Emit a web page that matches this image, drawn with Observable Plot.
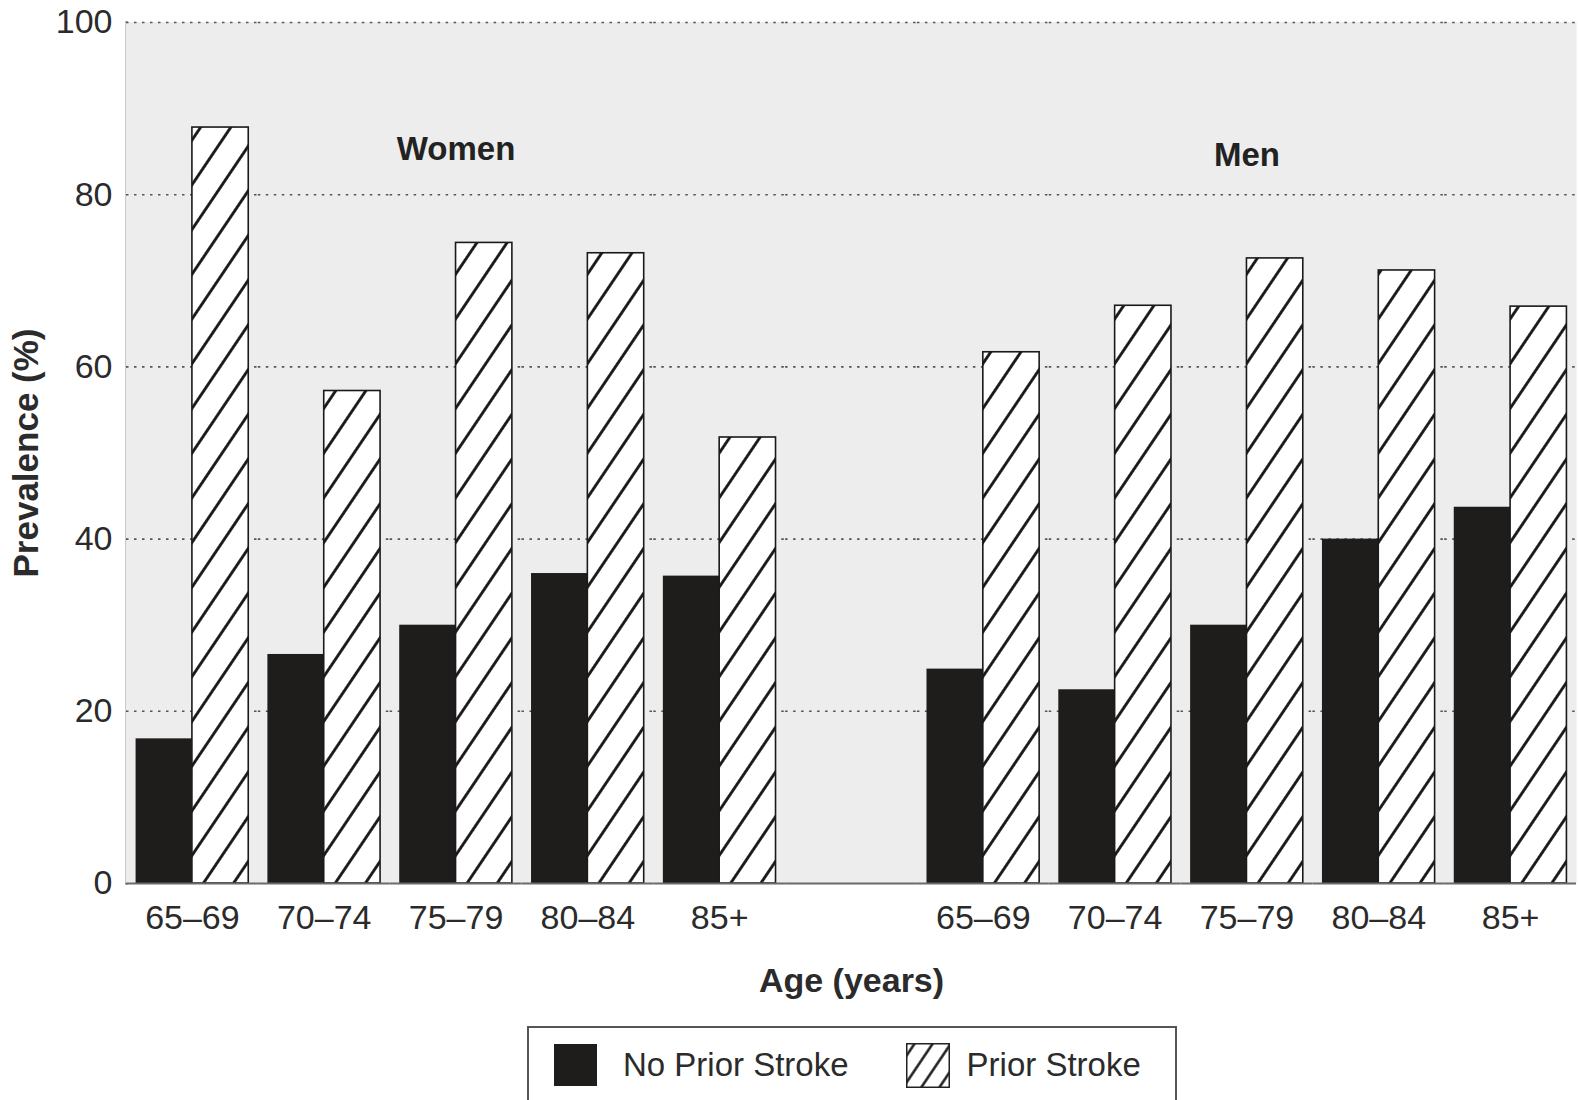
<!DOCTYPE html>
<html>
<head>
<meta charset="utf-8">
<script src="https://cdn.jsdelivr.net/npm/d3@7"></script>
<script src="https://cdn.jsdelivr.net/npm/@observablehq/plot@0.6"></script>
<style>
  html, body { margin: 0; padding: 0; background: #ffffff; }
  body { width: 1578px; height: 1100px; overflow: hidden; position: relative; font-family: "Liberation Sans", Arial, sans-serif; }
  #chart svg [aria-label$="-axis label"] { font-weight: bold; font-size: 34px; }
  #chart svg [aria-label="y-axis label"] { font-size: 35px; }
  #chart svg g[aria-label="frame"] { stroke: #777; stroke-width: 2px; }
  #legend {
    position: absolute; left: 527px; top: 1026px; width: 650px; height: 78px;
    box-sizing: border-box; border: 2px solid #555; background: #fff;
    display: flex; align-items: center; padding-left: 25px;
    font-size: 33px; color: #2b2b2b;
  }
  #legend .sw-black { width: 43px; height: 42px; background: #1f1c1c; margin-right: 26px; }
  #legend .sw-hatch { width: 44px; height: 45px; margin-left: 57px; margin-right: 17px; display: block; }
</style>
</head>
<body>
<div id="chart"></div>
<div id="legend">
  <div class="sw-black"></div><span>No Prior Stroke</span>
  <svg class="sw-hatch" width="44" height="45" viewBox="0 0 44 45">
    <defs>
      <pattern id="hatchLegend" patternUnits="userSpaceOnUse" width="15" height="15" patternTransform="rotate(34)">
        <rect width="15" height="15" fill="#fff"></rect>
        <line x1="7.5" y1="0" x2="7.5" y2="15" stroke="#111" stroke-width="2.4"></line>
      </pattern>
    </defs>
    <rect x="0.75" y="0.75" width="42.5" height="43.5" fill="url(#hatchLegend)" stroke="#222" stroke-width="1.5"></rect>
  </svg><span>Prior Stroke</span>
</div>
<script>
// ---- Data ----
const ageGroups = ["65–69", "70–74", "75–79", "80–84", "85+"];
const sexes = ["Women", "Men"];
const seriesNames = ["No Prior Stroke", "Prior Stroke"];
const womenNoPrior = [16.8, 26.6, 30.0, 36.0, 35.7];
const womenPrior   = [87.8, 57.2, 74.4, 73.2, 51.8];
const menNoPrior   = [24.9, 22.5, 30.0, 40.0, 43.7];
const menPrior     = [61.7, 67.1, 72.6, 71.2, 67.0];
const yTicks = [0, 20, 40, 60, 80, 100];
const gridValues = [20, 40, 60, 80, 100];

// ---- Build table ----
const GAP = "gap";
const slots = [
  ...ageGroups.map(a => "Women " + a),
  GAP,
  ...ageGroups.map(a => "Men " + a)
];
const rows = [];
ageGroups.forEach((a, i) => {
  rows.push({slot: "Women " + a, series: seriesNames[0], value: womenNoPrior[i]});
  rows.push({slot: "Women " + a, series: seriesNames[1], value: womenPrior[i]});
  rows.push({slot: "Men " + a, series: seriesNames[0], value: menNoPrior[i]});
  rows.push({slot: "Men " + a, series: seriesNames[1], value: menPrior[i]});
});
const groupLabels = sexes.map(s => ({name: s, slot: s + " " + ageGroups[2]}));

const chart = Plot.plot({
  width: 1578,
  height: 1000,
  marginLeft: 126,
  marginRight: 2,
  marginTop: 22,
  marginBottom: 117,
  style: {
    fontFamily: "'Liberation Sans', Arial, sans-serif",
    fontSize: "34px",
    color: "#2b2b2b",
    background: "transparent",
    overflow: "visible"
  },
  fx: {domain: slots, padding: 0, round: false},
  x: {domain: seriesNames, paddingInner: 0, paddingOuter: 0.17, round: false, axis: null},
  y: {
    domain: [0, 100], ticks: yTicks, tickSize: 0, tickPadding: 14, line: true,
    label: "Prevalence (%)", labelAnchor: "center", labelOffset: 113, labelArrow: false
  },
  marks: [
    Plot.barY(slots, {fx: d => d, y1: 0, y2: 100, fill: "#ededed", insetLeft: -0.6, insetRight: -0.6}),
    Plot.ruleY(gridValues, {stroke: "#555", strokeWidth: 1.6, strokeDasharray: "2.5,5.5"}),
    Plot.barY(rows.filter(d => d.series === seriesNames[0]), {
      fx: "slot", x: "series", y: "value", fill: "#1f1c1c", inset: 0
    }),
    Plot.barY(rows.filter(d => d.series === seriesNames[1]), {
      fx: "slot", x: "series", y: "value", fill: "url(#hatch)", stroke: "#1a1a1a", strokeWidth: 1.6, inset: 0
    }),
    Plot.ruleY([0], {stroke: "#6a6a6a", strokeWidth: 2}),
    Plot.text(groupLabels, {
      fx: "slot", y: d => (d.name === "Men" ? 84.6 : 85.2), text: "name",
      fontWeight: "bold", fontSize: 33, fill: "#222", lineAnchor: "middle"
    }),
    Plot.axisFx({
      anchor: "bottom", tickSize: 0, tickPadding: 21, fill: "#2b2b2b",
      tickFormat: d => d === GAP ? "" : d.split(" ")[1],
      label: "Age (years)", labelAnchor: "center", labelOffset: 108
    })
  ]
});

d3.select(chart).insert("defs", ":first-child").html(
  '<pattern id="hatch" patternUnits="userSpaceOnUse" width="25" height="25" patternTransform="rotate(34)">' +
  '<rect width="25" height="25" fill="#ffffff"></rect>' +
  '<line x1="12.5" y1="0" x2="12.5" y2="25" stroke="#111" stroke-width="2.8"></line>' +
  '</pattern>'
);
document.getElementById("chart").appendChild(chart);
</script>
</body>
</html>
